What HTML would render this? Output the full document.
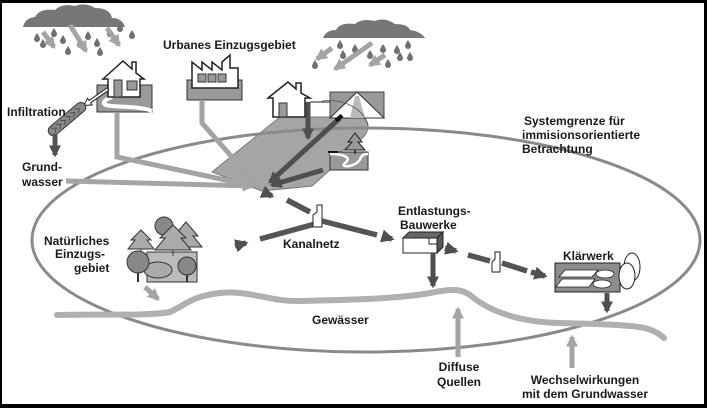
<!DOCTYPE html>
<html><head><meta charset="utf-8"><style>
html,body{margin:0;padding:0;background:#fff;}
svg{display:block;}
text{font-family:"Liberation Sans",Arial,sans-serif;font-weight:bold;font-size:12px;fill:#1a1a1a;}
</style></head><body>
<svg width="707" height="408" viewBox="0 0 707 408" xmlns="http://www.w3.org/2000/svg">
<defs>
<marker id="ml" viewBox="0 0 10 10" refX="8" refY="5" markerWidth="2.4" markerHeight="2.4" orient="auto" markerUnits="strokeWidth"><path d="M0,0 L10,5 L0,10 z" fill="#a4a4a4"/></marker>
<marker id="md" viewBox="0 0 10 10" refX="8" refY="5" markerWidth="2.4" markerHeight="2.4" orient="auto" markerUnits="strokeWidth"><path d="M0,0 L10,5 L0,10 z" fill="#4f4f4f"/></marker>
<path id="drop" d="M0,-4 C2,-1 3,1 3,2 A3,3 0 0 1 -3,2 C-3,1 -2,-1 0,-4 Z" fill="#707070"/>
</defs>
<rect x="0" y="0" width="707" height="408" fill="#000"/>
<rect x="2" y="3" width="702" height="401" fill="#fff"/>

<!-- urban grey area -->
<path d="M280,117 L330,117 C350,112 368,115 368,126 C368,134 362,140 352,145 L340,152 L330,152 L330,170 L312,186 L262,191 L212,172 Z" fill="#a5a5a5" stroke="#777" stroke-width="1"/>
<!-- mountain rect -->
<rect x="330" y="92" width="54" height="26" fill="#999" stroke="#444" stroke-width="1"/>
<polygon points="330,118 357,92 384,118" fill="#fff" stroke="#333" stroke-width="1"/>
<polygon points="355,96 359,96 365,118 350,118" fill="#bbb"/>
<path d="M322,101 C345,98 365,110 368,126" fill="none" stroke="#555" stroke-width="0.8"/>
<line x1="310" y1="102" x2="330" y2="102" stroke="#222" stroke-width="1"/>

<!-- small tree + land near urban -->
<rect x="330" y="152" width="38" height="18" fill="#999" stroke="#333" stroke-width="1"/>
<path d="M330,154 C345,154 352,158 345,163 C340,167 350,168 358,162 C362,158 360,154 368,154" fill="none" stroke="#fff" stroke-width="2.5"/>
<polygon points="355,133 348,142 352,142 345,150 365,150 358,142 362,142" fill="#999" stroke="#222" stroke-width="1"/>
<line x1="355" y1="150" x2="355" y2="154" stroke="#222" stroke-width="1.5"/>
<line x1="328" y1="152" x2="338" y2="152" stroke="#111" stroke-width="2"/>

<!-- ellipse system boundary -->
<ellipse cx="366" cy="240" rx="334" ry="112" fill="none" stroke="#8a8a8a" stroke-width="3"/>

<!-- river -->
<path d="M57,315 C100,314 150,316 170,312 C185,305 192,296 220,293 C250,290 270,302 300,301 C330,300 390,300 430,293 C450,289 460,288 470,295 C490,312 520,322 560,323 C600,324 630,325 645,328 C655,331 660,334 664,338" fill="none" stroke="#b0b0b0" stroke-width="6" stroke-linecap="round"/>

<!-- cloud 1 -->
<path d="M23,27 Q25,18 35,17 Q40,8 55,10 Q62,3 75,6 Q85,2 95,8 Q110,8 112,18 Q122,18 125,27 Z" fill="#777"/>
<g>
<use href="#drop" x="37" y="37"/><use href="#drop" x="54" y="32"/><use href="#drop" x="63" y="39"/>
<use href="#drop" x="68" y="50"/><use href="#drop" x="88" y="35"/><use href="#drop" x="97" y="42"/>
<use href="#drop" x="100" y="51"/><use href="#drop" x="110" y="32"/><use href="#drop" x="120" y="27"/>
<use href="#drop" x="132" y="34"/><use href="#drop" x="43" y="43"/><use href="#drop" x="80" y="43"/>
</g>
<g stroke="#a4a4a4" stroke-width="5" fill="none">
<line x1="43" y1="32" x2="54" y2="47" marker-end="url(#ml)"/>
<line x1="70" y1="25" x2="86" y2="51" marker-end="url(#ml)"/>
<line x1="107" y1="28" x2="119" y2="45" marker-end="url(#ml)"/>
</g>

<!-- cloud 2 -->
<path d="M323,38 Q326,30 336,30 Q340,22 355,24 Q362,18 375,21 Q385,17 395,24 Q408,24 410,30 Q420,31 425,38 Z" fill="#777"/>
<g>
<use href="#drop" x="340" y="44"/><use href="#drop" x="355" y="48"/><use href="#drop" x="343" y="54"/>
<use href="#drop" x="370" y="54"/><use href="#drop" x="383" y="48"/><use href="#drop" x="397" y="49"/>
<use href="#drop" x="408" y="44"/><use href="#drop" x="400" y="56"/><use href="#drop" x="388" y="63"/>
<use href="#drop" x="315" y="64"/><use href="#drop" x="410" y="56"/>
</g>
<g stroke="#a4a4a4" stroke-width="5" fill="none">
<line x1="332" y1="48" x2="317" y2="59" marker-end="url(#ml)"/>
<line x1="372" y1="43" x2="335" y2="69" marker-end="url(#ml)"/>
<line x1="385" y1="55" x2="370" y2="65" marker-end="url(#ml)"/>
</g>

<!-- house 1 -->
<rect x="97" y="85" width="55" height="27" fill="#999" stroke="#333" stroke-width="1"/>
<path d="M112,97 C102,101 100,105 112,106 C128,107 142,107 152,111" fill="none" stroke="#fff" stroke-width="4"/>
<polygon points="103,79 123,61 132,69 132,62 136,62 136,73 144,79 140,79 140,97 108,97 108,79" fill="#fff" stroke="#222" stroke-width="1.5"/>
<rect x="114" y="80" width="8" height="17" fill="#999" stroke="#333" stroke-width="1"/>
<rect x="127" y="81" width="10" height="9" fill="#999" stroke="#333" stroke-width="1"/>
<polygon points="108.8,90.2 90.6,102.8 92.1,104.9 84,105.5 87.5,98.3 89,100.4 107.2,87.8" fill="#fff" stroke="#222" stroke-width="1"/>
<!-- infiltration -->
<g transform="translate(67,119) rotate(-40)">
<rect x="-23" y="-5" width="46" height="10" rx="5" fill="#888" stroke="#333" stroke-width="1"/>
<path d="M-18,-3 l4,3 l-4,3 M-12,-3 l4,3 l-4,3 M-6,-3 l4,3 l-4,3 M0,-3 l4,3 l-4,3 M6,-3 l4,3 l-4,3 M12,-3 l4,3 l-4,3" fill="none" stroke="#444" stroke-width="0.8"/>
</g>
<line x1="55" y1="134" x2="55" y2="155" stroke="#555" stroke-width="5" marker-end="url(#md)"/>

<!-- factory -->
<rect x="187" y="80" width="55" height="20" fill="#999" stroke="#333" stroke-width="1"/>
<polygon points="192,88 192,62 202,70 202,62 212,70 212,62 222,70 222,62 230,55 230,68 238,68 238,88" fill="#fff" stroke="#222" stroke-width="1.5"/>
<rect x="198" y="74" width="8" height="8" fill="#999" stroke="#333" stroke-width="1"/>
<rect x="208" y="74" width="8" height="8" fill="#999" stroke="#333" stroke-width="1"/>
<rect x="218" y="74" width="8" height="8" fill="#999" stroke="#333" stroke-width="1"/>

<!-- house 2 -->
<polygon points="268,98 288,82 296,89 296,83 301,83 301,93 310,98 305,98 305,117 273,117 273,98" fill="#fff" stroke="#222" stroke-width="1.5"/>
<rect x="279" y="103" width="8" height="14" fill="#999" stroke="#333" stroke-width="1"/>

<!-- light grey arrows to convergence -->
<g stroke="#a4a4a4" stroke-width="5" fill="none">
<path d="M117,113 L117,157 L254,186" marker-end="url(#ml)"/>
<line x1="66" y1="181" x2="252" y2="186" marker-end="url(#ml)"/>
<path d="M202,100 L202,123 L254,182" marker-end="url(#ml)"/>
</g>
<!-- dark arrows -->
<g stroke="#4f4f4f" stroke-width="5" fill="none">
<line x1="308" y1="102" x2="308" y2="138" marker-end="url(#md)"/>
<line x1="340" y1="118" x2="270" y2="182" marker-end="url(#md)"/>
<line x1="323" y1="170" x2="272" y2="185" marker-end="url(#md)"/>
</g>
<rect x="335" y="116" width="8" height="4" fill="#111" transform="rotate(-40 339 118)"/>

<!-- canal network -->
<g stroke="#555" stroke-width="5.5" fill="none">
<line x1="263" y1="192" x2="272" y2="196" marker-end="url(#md)"/>
<line x1="287" y1="200" x2="310" y2="212"/>
<line x1="322" y1="221" x2="377" y2="235"/>
<line x1="382" y1="236" x2="392" y2="239" marker-end="url(#md)"/>
<line x1="235" y1="246" x2="246" y2="243" marker-end="url(#md)"/>
<line x1="260" y1="239" x2="315" y2="224"/>
<line x1="445" y1="248" x2="456" y2="251" marker-end="url(#md)"/>
<line x1="468" y1="255" x2="490" y2="261"/>
<line x1="502" y1="263" x2="527" y2="271"/>
<line x1="531" y1="272" x2="545" y2="276" marker-end="url(#md)"/>
</g>
<polygon points="313,227 313,215 317,212 317,205 322,205 322,227" fill="#fff" stroke="#222" stroke-width="1"/>
<polygon points="492,272 492,262 495,259 495,252 500,252 500,272" fill="#fff" stroke="#222" stroke-width="1"/>

<!-- Entlastungsbauwerk box -->
<polygon points="403,238 409,232 443,232 437,238" fill="#666" stroke="#222" stroke-width="1"/>
<polygon points="437,238 443,232 443,247 437,253" fill="#555" stroke="#222" stroke-width="1"/>
<rect x="403" y="238" width="34" height="15" fill="#fff" stroke="#222" stroke-width="1"/>
<rect x="429" y="238" width="8" height="6" fill="#fff" stroke="#222" stroke-width="1"/>
<line x1="433" y1="253" x2="433" y2="286" stroke="#4f4f4f" stroke-width="5" marker-end="url(#md)"/>

<!-- Klaerwerk -->
<rect x="555" y="263" width="65" height="29" fill="#8c8c8c" stroke="#222" stroke-width="1"/>
<polygon points="565,270 598,270 592,277 559,277" fill="#fff" stroke="#222" stroke-width="0.8"/>
<polygon points="562,279 595,279 589,287 556,287" fill="#fff" stroke="#222" stroke-width="0.8"/>
<ellipse cx="605" cy="274" rx="9" ry="4" fill="#fff" stroke="#222" stroke-width="0.8"/>
<ellipse cx="602" cy="284" rx="9" ry="4" fill="#fff" stroke="#222" stroke-width="0.8"/>
<ellipse cx="632" cy="267" rx="8" ry="14" fill="#fff" stroke="#222" stroke-width="1"/>
<ellipse cx="627" cy="276" rx="8" ry="13" fill="#fff" stroke="#222" stroke-width="1"/>
<line x1="607" y1="293" x2="607" y2="311" stroke="#4f4f4f" stroke-width="5" marker-end="url(#md)"/>

<!-- upward light arrows -->
<g stroke="#a4a4a4" stroke-width="5" fill="none">
<line x1="458" y1="357" x2="458" y2="309" marker-end="url(#ml)"/>
<line x1="572" y1="368" x2="572" y2="337" marker-end="url(#ml)"/>
<line x1="145" y1="287" x2="158" y2="299" marker-end="url(#ml)"/>
</g>

<!-- forest -->
<g stroke="#333" stroke-width="1">
<rect x="147" y="252" width="50" height="30" fill="#bbb"/>
<ellipse cx="158" cy="270" rx="14" ry="8" fill="#aaa"/>
<circle cx="164" cy="226" r="9" fill="#888"/>
<polygon points="186,222 174,236 179,236 170,247 202,247 193,236 198,236" fill="#aaa"/>
<polygon points="173,225 160,238 165,238 155,250 191,250 181,238 186,238" fill="#aaa"/>
<line x1="173" y1="250" x2="173" y2="256"/>
<polygon points="141,230 131,240 135,240 128,249 154,249 147,240 151,240" fill="#aaa"/>
<line x1="141" y1="249" x2="141" y2="252"/>
<circle cx="138" cy="262" r="11" fill="#888"/>
<line x1="138" y1="273" x2="138" y2="282" stroke-width="2"/>
<circle cx="187" cy="266" r="9" fill="#888"/>
<line x1="187" y1="275" x2="187" y2="282" stroke-width="2"/>
</g>

<!-- labels -->
<text x="163" y="49">Urbanes Einzugsgebiet</text>
<text x="7" y="116">Infiltration</text>
<text x="22" y="171">Grund-</text>
<text x="22" y="186">wasser</text>
<text x="44" y="245">Natürliches</text>
<text x="55" y="258">Einzugs-</text>
<text x="74" y="272">gebiet</text>
<text x="283" y="248">Kanalnetz</text>
<text x="398" y="215">Entlastungs-</text>
<text x="400" y="229">Bauwerke</text>
<text x="312" y="324">Gewässer</text>
<text x="563" y="260">Klärwerk</text>
<text x="459" y="371" text-anchor="middle">Diffuse</text>
<text x="459" y="386" text-anchor="middle">Quellen</text>
<text x="585" y="384" text-anchor="middle">Wechselwirkungen</text>
<text x="585" y="398" text-anchor="middle">mit dem Grundwasser</text>
<text x="524" y="125">Systemgrenze für</text>
<text x="522" y="139">immisionsorientierte</text>
<text x="522" y="153">Betrachtung</text>
</svg>
</body></html>
